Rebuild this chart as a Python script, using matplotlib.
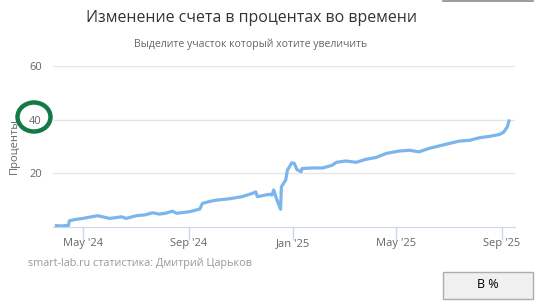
import matplotlib
matplotlib.use("Agg")
import matplotlib.pyplot as plt
from matplotlib.patches import Ellipse, Rectangle
import pandas as pd

dates = ["2024-03-31", "2024-04-06", "2024-04-14", "2024-04-15", "2024-04-22", "2024-05-01",
         "2024-05-09", "2024-05-18", "2024-05-25", "2024-06-01", "2024-06-15", "2024-06-20",
         "2024-07-02", "2024-07-12", "2024-07-21", "2024-07-29", "2024-08-06", "2024-08-13",
         "2024-08-18", "2024-09-02", "2024-09-14", "2024-09-17", "2024-09-25", "2024-10-03",
         "2024-10-18", "2024-11-02", "2024-11-14", "2024-11-18", "2024-11-20", "2024-12-04",
         "2024-12-07", "2024-12-09", "2024-12-12", "2024-12-17", "2024-12-18", "2024-12-23",
         "2024-12-25", "2024-12-30", "2025-01-02", "2025-01-05", "2025-01-10", "2025-01-11",
         "2025-01-23", "2025-02-04", "2025-02-15", "2025-02-20", "2025-03-03", "2025-03-15",
         "2025-03-26", "2025-04-07", "2025-04-19", "2025-04-22", "2025-05-04", "2025-05-16",
         "2025-05-27", "2025-06-08", "2025-07-01", "2025-07-13", "2025-07-25", "2025-08-06",
         "2025-08-18", "2025-08-29", "2025-09-03", "2025-09-07", "2025-09-09"]
values = [0.5, 0.4, 0.6, 2.3, 2.8, 3.2,
          3.7, 4.2, 3.7, 3.2, 3.8, 3.2,
          4.2, 4.5, 5.3, 4.8, 5.2, 5.9,
          5.1, 5.7, 6.7, 8.8, 9.5, 10.0,
          10.5, 11.3, 12.5, 13.1, 11.3, 12.2,
          11.9, 13.8, 10.8, 6.6, 15.0, 17.5,
          21.2, 23.9, 23.7, 21.4, 20.6, 21.8,
          22.0, 22.0, 23.0, 24.1, 24.6, 24.1,
          25.2, 25.9, 27.4, 27.6, 28.3, 28.6,
          28.0, 29.3, 31.1, 32.0, 32.3, 33.3,
          33.8, 34.5, 35.4, 37.3, 39.5]
y_ticks = [20, 40, 60]
x_ticks = ["2024-05-01", "2024-09-01", "2025-01-01", "2025-05-01", "2025-09-01"]
x_tick_labels = ["May '24", "Sep '24", "Jan '25", "May '25", "Sep '25"]

title = "Изменение счета в процентах во времени"
subtitle = "Выделите участок который хотите увеличить"
y_title = "Проценты"
credit = "smart-lab.ru статистика: Дмитрий Царьков"
button = "В %"

W, H = 538, 302
fig = plt.figure(figsize=(W / 100, H / 100), dpi=100)
fig.patch.set_facecolor("white")
plt.rcParams["font.family"] = ["Open Sans", "DejaVu Sans"]

L, R, T, B = 53, 515, 66, 227
ax = fig.add_axes([L / W, (H - B) / H, (R - L) / W, (B - T) / H])
x = pd.to_datetime(dates)
ax.plot(x, values, color="#7cb5ec", lw=2.3, solid_joinstyle="round", zorder=3)
ax.set_ylim(0, 60)
ax.set_xlim(pd.Timestamp("2024-03-27"), pd.Timestamp("2025-09-16"))
ax.set_yticks(y_ticks)
ax.set_yticklabels([str(v) for v in y_ticks])
ax.set_xticks(pd.to_datetime(x_ticks))
ax.set_xticklabels(x_tick_labels)
ax.grid(axis="y", color="#e6e6e6", lw=1)
ax.set_axisbelow(True)
for s in ["top", "right", "left"]:
    ax.spines[s].set_visible(False)
ax.spines["bottom"].set_color("#ccd6eb")
ax.tick_params(axis="y", length=0, pad=8, labelsize=8, labelcolor="#666666")
ax.tick_params(axis="x", length=9, width=1, color="#ccd6eb", pad=-1, labelsize=8, labelcolor="#666666")
ax.set_facecolor("white")

fig.text(251 / W, 1 - 18 / H, title, ha="center", va="center", fontsize=11.4, color="#333333")
fig.text(251 / W, 1 - 44 / H, subtitle, ha="center", va="center", fontsize=7.6, color="#666666")
fig.text(14 / W, 1 - 146 / H, y_title, ha="center", va="center", rotation=90, fontsize=8, color="#666666")
fig.text(28 / W, 1 - 263 / H, credit, ha="left", va="center", fontsize=7.8, color="#999999")

# button
fig.patches.append(Rectangle((443 / W, 1 - 299 / H), 90 / W, 27 / H, transform=fig.transFigure,
                             facecolor="#f0f0f0", edgecolor="#adadad", lw=1))
fig.text(488 / W, 1 - 285 / H, button, ha="center", va="center", fontsize=9, color="#000000")
# partially visible button at top
fig.lines.append(plt.Line2D([443 / W, 533 / W], [1 - 0.5 / H, 1 - 0.5 / H], transform=fig.transFigure,
                            color="#8a8a8a", lw=1.2))

# green hand-drawn circle annotation
fig.patches.append(Ellipse((34 / W, 1 - 117 / H), 33 / W, 29 / H, transform=fig.transFigure,
                           facecolor="none", edgecolor="#127a47", lw=3.2))

fig.savefig("out.png", dpi=100)
